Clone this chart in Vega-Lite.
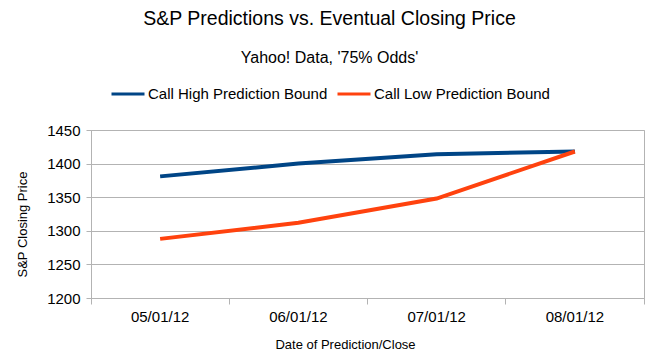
{
  "$schema": "https://vega.github.io/schema/vega-lite/v6.json",
  "width": 553,
  "height": 168,
  "autosize": {"type": "none"},
  "padding": {"left": 91, "top": 130, "right": 15, "bottom": 63},
  "background": "white",
  "config": {
    "font": "Liberation Sans",
    "view": {"stroke": "#b3b3b3", "strokeWidth": 1}
  },
  "title": {
    "text": "S&P Predictions vs. Eventual Closing Price",
    "subtitle": "Yahoo! Data, '75% Odds'",
    "fontSize": 19.5,
    "fontWeight": "normal",
    "color": "black",
    "subtitleFontSize": 16,
    "subtitleColor": "black",
    "subtitlePadding": 21,
    "anchor": "middle",
    "dx": -38,
    "offset": 9
  },
  "data": {
    "values": [
      {"date": "05/01/12", "series": "Call High Prediction Bound", "price": 1381},
      {"date": "06/01/12", "series": "Call High Prediction Bound", "price": 1400},
      {"date": "07/01/12", "series": "Call High Prediction Bound", "price": 1414},
      {"date": "08/01/12", "series": "Call High Prediction Bound", "price": 1418},
      {"date": "05/01/12", "series": "Call Low Prediction Bound", "price": 1288},
      {"date": "06/01/12", "series": "Call Low Prediction Bound", "price": 1312},
      {"date": "07/01/12", "series": "Call Low Prediction Bound", "price": 1348},
      {"date": "08/01/12", "series": "Call Low Prediction Bound", "price": 1418}
    ]
  },
  "mark": {"type": "line", "strokeWidth": 4},
  "encoding": {
    "x": {
      "field": "date",
      "type": "ordinal",
      "sort": null,
      "scale": {"type": "band", "paddingInner": 0, "paddingOuter": 0},
      "axis": {
        "title": "Date of Prediction/Close",
        "titleFontSize": 13,
        "titleFontWeight": "normal",
        "titleColor": "black",
        "titleX": 254,
        "titleY": 46,
        "titleBaseline": "middle",
        "labelAngle": 0,
        "labelFontSize": 15,
        "labelColor": "black",
        "labelPadding": 5,
        "bandPosition": 1,
        "tickExtra": true,
        "tickSize": 6,
        "tickColor": "#b3b3b3",
        "domainColor": "#b3b3b3",
        "grid": false
      }
    },
    "y": {
      "field": "price",
      "type": "quantitative",
      "scale": {"domain": [1200, 1450], "nice": false, "zero": false},
      "axis": {
        "values": [1200, 1250, 1300, 1350, 1400, 1450],
        "format": "d",
        "title": "S&P Closing Price",
        "titleFontSize": 13,
        "titleFontWeight": "normal",
        "titleColor": "black",
        "titleX": -69,
        "titleY": 94,
        "titleBaseline": "middle",
        "labelFontSize": 15,
        "labelColor": "black",
        "labelPadding": 6,
        "tickSize": 5,
        "tickColor": "#b3b3b3",
        "domainColor": "#b3b3b3",
        "gridColor": "#b3b3b3"
      }
    },
    "color": {
      "field": "series",
      "type": "nominal",
      "scale": {
        "domain": ["Call High Prediction Bound", "Call Low Prediction Bound"],
        "range": ["#004586", "#ff420e"]
      },
      "legend": {
        "title": null,
        "orient": "none",
        "legendX": 19,
        "legendY": -54,
        "direction": "horizontal",
        "symbolType": "stroke",
        "symbolSize": 1089,
        "symbolStrokeWidth": 3,
        "labelFontSize": 15,
        "labelColor": "black",
        "labelOffset": 2,
        "labelLimit": 0,
        "columnPadding": 3
      }
    }
  }
}
